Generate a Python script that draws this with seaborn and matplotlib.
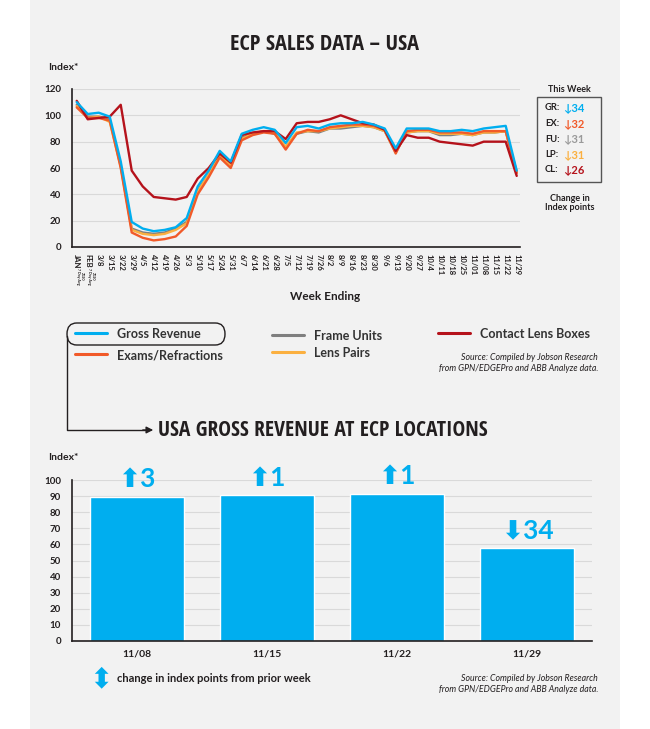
import matplotlib
matplotlib.use("Agg")
import matplotlib.pyplot as plt
import numpy as np
import pandas as pd
import seaborn as sns
from matplotlib.lines import Line2D
from matplotlib.patches import FancyBboxPatch, Rectangle, FancyArrowPatch

# --- data -----------------------------------------------------------------
weeks = ["JAN", "FEB", "3/8", "3/15", "3/22", "3/29",
         "4/5", "4/12", "4/19", "4/26", "5/3", "5/10", "5/17", "5/24", "5/31",
         "6/7", "6/14", "6/21", "6/28", "7/5", "7/12", "7/19", "7/26",
         "8/2", "8/9", "8/16", "8/23", "8/30", "9/6", "9/13", "9/20", "9/27",
         "10/4", "10/11", "10/18", "10/25", "11/01", "11/08", "11/15", "11/22", "11/29"]
avg_note = "2020\n7 Day Avg"

gross_revenue = [110, 101, 102, 99, 65, 19, 14, 12, 13, 15, 22, 46, 58, 73, 65,
                 86, 89, 91, 89, 79, 91, 92, 90, 93, 94, 94, 95, 93, 90, 75,
                 90, 90, 90, 88, 88, 89, 88, 90, 91, 92, 58]
exams = [106, 98, 98, 96, 60, 11, 7, 5, 6, 8, 16, 40, 53, 68, 60,
         81, 85, 87, 86, 74, 86, 89, 88, 91, 92, 93, 93, 92, 89, 71,
         88, 89, 89, 87, 87, 87, 86, 88, 88, 88, 56]
frame_units = [108, 99, 99, 97, 62, 14, 11, 10, 11, 14, 19, 43, 55, 70, 63,
               83, 86, 88, 86, 76, 86, 88, 87, 90, 90, 91, 92, 91, 88, 72,
               87, 88, 88, 85, 85, 86, 85, 87, 87, 88, 57]
lens_pairs = [107, 98, 99, 95, 61, 13, 10, 9, 10, 13, 18, 42, 55, 70, 62,
              82, 86, 88, 87, 76, 87, 88, 88, 90, 91, 92, 92, 91, 88, 72,
              87, 88, 88, 86, 86, 86, 85, 87, 87, 88, 57]
contact_lens = [111, 97, 98, 99, 108, 58, 46, 38, 37, 36, 38, 52, 60, 71, 64,
                85, 87, 88, 88, 82, 94, 95, 95, 97, 100, 97, 94, 93, 89, 73,
                85, 83, 83, 80, 79, 78, 77, 80, 80, 80, 54]

series_names = ["Frame Units", "Lens Pairs", "Exams/Refractions", "Contact Lens Boxes", "Gross Revenue"]
series_values = [frame_units, lens_pairs, exams, contact_lens, gross_revenue]

week_codes = ["GR:", "EX:", "FU:", "LP:", "CL:"]
week_changes = ["34", "32", "31", "31", "26"]

bar_weeks = ["11/08", "11/15", "11/22", "11/29"]
bar_values = [89.5, 90.5, 91.5, 58]
bar_changes = ["\u2b063", "\u2b061", "\u2b061", "\u2b0734"]

# --- style ----------------------------------------------------------------
BLUE = "#00aeef"
ORANGE = "#f15a29"
GRAY = "#7f7f7f"
YELLOW = "#fbb040"
RED = "#b5121b"
INK = "#231f20"
PANEL = "#f2f2f2"
colors = {"Gross Revenue": BLUE, "Exams/Refractions": ORANGE, "Frame Units": GRAY,
          "Lens Pairs": YELLOW, "Contact Lens Boxes": RED}

sns.set_style("white")
plt.rcParams["font.family"] = ["Lato", "DejaVu Sans"]
TITLE_FONT = ["Open Sans Condensed", "Roboto Condensed", "DejaVu Sans"]
W, H = 650, 729


def fx(px):
    return px / W


def fy(py):
    return 1 - py / H


fig = plt.figure(figsize=(6.5, 7.29), dpi=100, facecolor="white")
fig.patches.append(Rectangle((fx(30), 0), fx(620) - fx(30), 1, transform=fig.transFigure,
                             facecolor=PANEL, edgecolor="none", zorder=-10))

# --- top line chart -------------------------------------------------------
rows = []
for name, vals in zip(series_names, series_values):
    for i, v in enumerate(vals):
        rows.append({"pos": i, "series": name, "value": v})
df = pd.DataFrame(rows)

ax = fig.add_axes([fx(72), fy(247), fx(520) - fx(72), fy(89) - fy(247)])
ax.set_facecolor("none")
sns.lineplot(data=df, x="pos", y="value", hue="series", hue_order=series_names,
             palette=colors, linewidth=1.7, legend=False, ax=ax)
ax.set_xlim(-0.43, 40.3)
ax.set_ylim(0, 120)
ax.set_yticks(range(0, 121, 20))
ax.yaxis.grid(True, color="#d9d9d9", linewidth=0.8)
ax.set_axisbelow(True)
ax.set_xticks(range(len(weeks)))
ax.set_xticklabels(weeks, rotation=270, fontsize=5.5, fontweight="bold", color=INK)
ax.tick_params(axis="x", direction="out", length=3, width=0.8, color=INK, pad=2)
ax.tick_params(axis="y", length=0, labelsize=7, pad=8, labelcolor=INK)
for t in ax.get_yticklabels():
    t.set_fontweight("bold")
for s in ["top", "right"]:
    ax.spines[s].set_visible(False)
for s in ["left", "bottom"]:
    ax.spines[s].set_color(INK)
    ax.spines[s].set_linewidth(1.2)
ax.set_xlabel("")
ax.set_ylabel("")
# small "2020 / 7 Day Avg" notes beside JAN and FEB
for i in [0, 1]:
    ax.annotate(avg_note, (i, 0), xycoords=("data", "axes fraction"), xytext=(2.6, -15),
                textcoords="offset points", rotation=270, fontsize=2.6, fontweight="bold",
                color=INK, ha="center", va="top", linespacing=1.0)

fig.text(fx(325), fy(45), "ECP SALES DATA \u2013 USA", ha="center", va="center",
         fontsize=16, fontweight="bold", family=TITLE_FONT, fontstretch="condensed", color=INK)
fig.text(fx(48), fy(67), "Index*", ha="left", va="center", fontsize=7.5,
         fontweight="bold", color=INK)
fig.text(fx(325), fy(296), "Week Ending", ha="center", va="center", fontsize=8.5,
         fontweight="bold", color=INK)

# this week box
fig.text(fx(569), fy(89), "This Week", ha="center", va="center", fontsize=6.5,
         fontweight="bold", color=INK)
fig.patches.append(Rectangle((fx(537), fy(182)), fx(601) - fx(537), fy(97) - fy(182),
                             transform=fig.transFigure, facecolor="none",
                             edgecolor="#555555", linewidth=1.0))
code_colors = [BLUE, ORANGE, "#9a9a9a", YELLOW, RED]
for k, (code, chg, c) in enumerate(zip(week_codes, week_changes, code_colors)):
    y = fy(108 + k * 15.5)
    fig.text(fx(545), y, code, ha="left", va="center", fontsize=6.8,
             fontweight="bold", color=INK)
    fig.text(fx(563), y, "\u2193" + chg, ha="left", va="center", fontsize=8,
             fontweight="bold", color=c, family=["Lato", "DejaVu Sans"])
fig.text(fx(570), fy(203), "Change in\nIndex points", ha="center", va="center",
         fontsize=6.5, fontweight="bold", color=INK, linespacing=1.1)

# legend
legend_items = [("Gross Revenue", 75, 333), ("Exams/Refractions", 75, 354),
                ("Frame Units", 272, 335), ("Lens Pairs", 272, 352),
                ("Contact Lens Boxes", 438, 333)]
for name, x0, y0 in legend_items:
    fig.lines.append(Line2D([fx(x0), fx(x0 + 32)], [fy(y0), fy(y0)], transform=fig.transFigure,
                            color=colors[name], linewidth=2.2))
    fig.text(fx(x0 + 42), fy(y0 + 1), name, ha="left", va="center", fontsize=9,
             fontweight="bold", color="#333333")
fig.patches.append(FancyBboxPatch((fx(67), fy(345)), fx(225) - fx(67), fy(323) - fy(345),
                                  boxstyle="round,pad=0,rounding_size=0.015",
                                  transform=fig.transFigure, facecolor="none",
                                  edgecolor=INK, linewidth=1.0))
fig.text(fx(598), fy(363), "Source: Compiled by Jobson Research\nfrom GPN/EDGEPro and ABB Analyze data.",
         ha="right", va="center", fontsize=6.3, style="italic", color=INK, linespacing=1.2)

# connector to lower chart
fig.lines.append(Line2D([fx(67), fx(67), fx(145)], [fy(336), fy(430), fy(430)],
                        transform=fig.transFigure, color=INK, linewidth=1.0))
fig.patches.append(FancyArrowPatch((fx(140), fy(430)), (fx(156), fy(430)),
                                   transform=fig.transFigure, arrowstyle="-|>",
                                   mutation_scale=10, color=INK, linewidth=1.0))
fig.text(fx(158), fy(430), "USA GROSS REVENUE AT ECP LOCATIONS", ha="left", va="center",
         fontsize=15.5, fontweight="bold", family=TITLE_FONT, fontstretch="condensed", color=INK)

# --- bottom bar chart -----------------------------------------------------
ax2 = fig.add_axes([fx(72), fy(641), fx(592) - fx(72), fy(480) - fy(641)])
ax2.set_facecolor("none")
sns.barplot(x=bar_weeks, y=bar_values, color=BLUE, saturation=1, width=0.72, ax=ax2)
ax2.set_xlim(-0.5, 3.5)
ax2.set_ylim(0, 100)
ax2.set_yticks(range(0, 101, 10))
ax2.yaxis.grid(True, color="#d9d9d9", linewidth=0.8)
ax2.set_axisbelow(True)
ax2.set_xticks(range(len(bar_weeks)))
ax2.set_xticklabels(bar_weeks, fontsize=7.5, fontweight="bold", color=INK)
ax2.set_xticks([0.5, 1.5, 2.5, 3.5], minor=True)
ax2.tick_params(axis="x", which="major", length=0, pad=6)
ax2.tick_params(axis="x", which="minor", direction="out", length=3, width=0.8, color=INK)
ax2.tick_params(axis="y", length=0, labelsize=7, pad=8, labelcolor=INK)
for t in ax2.get_yticklabels():
    t.set_fontweight("bold")
for s in ["top", "right"]:
    ax2.spines[s].set_visible(False)
for s in ["left", "bottom"]:
    ax2.spines[s].set_color(INK)
    ax2.spines[s].set_linewidth(1.2)
ax2.set_xlabel("")
ax2.set_ylabel("")
for i, (v, lab) in enumerate(zip(bar_values, bar_changes)):
    ax2.annotate(lab, (i, v), xytext=(0, 4), textcoords="offset points", ha="center",
                 va="bottom", fontsize=19, fontweight="bold", color=BLUE,
                 family=["Lato", "DejaVu Sans"])

fig.text(fx(48), fy(458), "Index*", ha="left", va="center", fontsize=7.5,
         fontweight="bold", color=INK)
fig.text(fx(101), fy(679), "\u2b0d", ha="center", va="center", fontsize=20,
         color=BLUE, family=["DejaVu Sans"])
fig.text(fx(117), fy(678), "change in index points from prior week", ha="left", va="center",
         fontsize=8, fontweight="bold", color=INK)
fig.text(fx(598), fy(684), "Source: Compiled by Jobson Research\nfrom GPN/EDGEPro and ABB Analyze data.",
         ha="right", va="center", fontsize=6.3, style="italic", color=INK, linespacing=1.2)

fig.savefig("out.png", dpi=100, facecolor="white")
